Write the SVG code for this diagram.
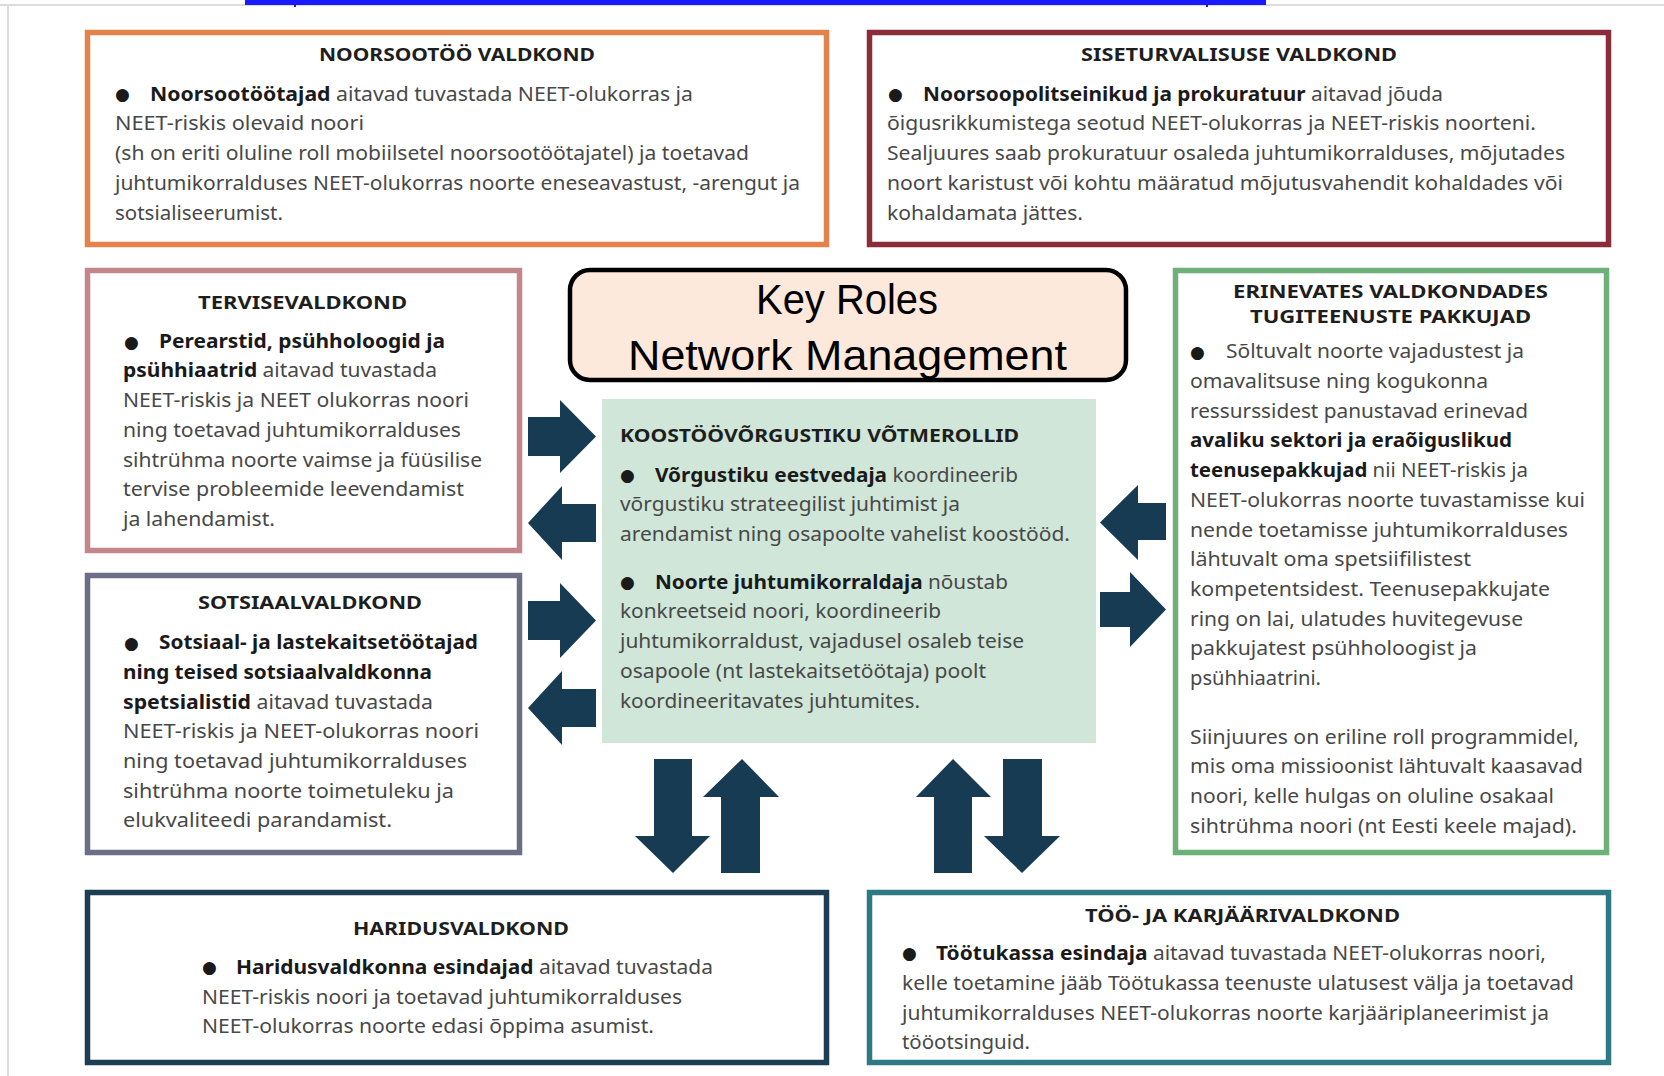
<svg xmlns="http://www.w3.org/2000/svg" width="1664" height="1076" viewBox="0 0 1664 1076">
<style>
.bx{fill:#ffffff;stroke-width:5.5}
.t{font-family:'Noto Sans','Liberation Sans',sans-serif;font-size:19px;fill:#484848}
.h{font-family:'Noto Sans','Liberation Sans',sans-serif;font-size:18px;font-weight:bold;fill:#1e1e1e}
.b{font-weight:bold;fill:#1a1a1a}
.bul{font-family:'DejaVu Sans',sans-serif;font-size:17px;fill:#1a1a1a}
.arr{fill:#173b53}
.kr{font-family:'Liberation Sans',Arial,sans-serif;font-size:43px;fill:#000}
</style>
<rect x="0" y="0" width="1664" height="1076" fill="#ffffff"/>
<g id="page-edge">
<line x1="0" y1="5" x2="1664" y2="5" stroke="#dcdcdc" stroke-width="2"/>
<line x1="8" y1="5" x2="8" y2="1076" stroke="#dcdcdc" stroke-width="2"/>
<rect x="245" y="0" width="1021" height="5" fill="#1a1aff"/>
<rect x="294" y="0" width="2" height="7" fill="#1a1aff"/>
<rect x="1206" y="0" width="2" height="7" fill="#1a1aff"/>
</g>

<g id="noorsootoo">
<rect class="bx" x="87.5" y="32.5" width="739" height="212" stroke="#e2834e"/>
<text class="h" x="319" y="61" textLength="276" lengthAdjust="spacingAndGlyphs">NOORSOOTÖÖ VALDKOND</text>
<text class="bul" x="115" y="100">●</text>
<text class="t" x="150" y="101" textLength="543" lengthAdjust="spacingAndGlyphs"><tspan class="b">Noorsootöötajad</tspan> aitavad tuvastada NEET-olukorras ja</text>
<text class="t" x="115" y="130" textLength="249" lengthAdjust="spacingAndGlyphs">NEET-riskis olevaid noori</text>
<text class="t" x="115" y="160" textLength="634" lengthAdjust="spacingAndGlyphs">(sh on eriti oluline roll mobiilsetel noorsootöötajatel) ja toetavad</text>
<text class="t" x="115" y="190" textLength="685" lengthAdjust="spacingAndGlyphs">juhtumikorralduses NEET-olukorras noorte eneseavastust, -arengut ja</text>
<text class="t" x="115" y="220" textLength="168" lengthAdjust="spacingAndGlyphs">sotsialiseerumist.</text>
</g>

<g id="siseturvalisus">
<rect class="bx" x="869.5" y="32.5" width="739" height="212" stroke="#8a2d3a"/>
<text class="h" x="1081" y="61" textLength="316" lengthAdjust="spacingAndGlyphs">SISETURVALISUSE VALDKOND</text>
<text class="bul" x="888" y="100">●</text>
<text class="t" x="923" y="101" textLength="520" lengthAdjust="spacingAndGlyphs"><tspan class="b">Noorsoopolitseinikud ja prokuratuur</tspan> aitavad jõuda</text>
<text class="t" x="887" y="130" textLength="649" lengthAdjust="spacingAndGlyphs">õigusrikkumistega seotud NEET-olukorras ja NEET-riskis noorteni.</text>
<text class="t" x="887" y="160" textLength="678" lengthAdjust="spacingAndGlyphs">Sealjuures saab prokuratuur osaleda juhtumikorralduses, mõjutades</text>
<text class="t" x="887" y="190" textLength="676" lengthAdjust="spacingAndGlyphs">noort karistust või kohtu määratud mõjutusvahendit kohaldades või</text>
<text class="t" x="887" y="220" textLength="196" lengthAdjust="spacingAndGlyphs">kohaldamata jättes.</text>
</g>

<g id="tervis">
<rect class="bx" x="87.5" y="270.5" width="432" height="280" stroke="#c4868a"/>
<text class="h" x="198" y="309" textLength="209" lengthAdjust="spacingAndGlyphs">TERVISEVALDKOND</text>
<text class="bul" x="124" y="348">●</text>
<text class="t" x="159" y="348" textLength="286" lengthAdjust="spacingAndGlyphs"><tspan class="b">Perearstid, psühholoogid ja</tspan></text>
<text class="t" x="123" y="377" textLength="314" lengthAdjust="spacingAndGlyphs"><tspan class="b">psühhiaatrid</tspan> aitavad tuvastada</text>
<text class="t" x="123" y="407" textLength="346" lengthAdjust="spacingAndGlyphs">NEET-riskis ja NEET olukorras noori</text>
<text class="t" x="123" y="437" textLength="338" lengthAdjust="spacingAndGlyphs">ning toetavad juhtumikorralduses</text>
<text class="t" x="123" y="467" textLength="359" lengthAdjust="spacingAndGlyphs">sihtrühma noorte vaimse ja füüsilise</text>
<text class="t" x="123" y="496" textLength="341" lengthAdjust="spacingAndGlyphs">tervise probleemide leevendamist</text>
<text class="t" x="123" y="526" textLength="152" lengthAdjust="spacingAndGlyphs">ja lahendamist.</text>
</g>

<g id="sotsiaal">
<rect class="bx" x="87.5" y="575.5" width="432" height="277" stroke="#6c6e87"/>
<text class="h" x="198" y="609" textLength="224" lengthAdjust="spacingAndGlyphs">SOTSIAALVALDKOND</text>
<text class="bul" x="124" y="649">●</text>
<text class="t" x="159" y="649" textLength="319" lengthAdjust="spacingAndGlyphs"><tspan class="b">Sotsiaal- ja lastekaitsetöötajad</tspan></text>
<text class="t" x="123" y="679" textLength="309" lengthAdjust="spacingAndGlyphs"><tspan class="b">ning teised sotsiaalvaldkonna</tspan></text>
<text class="t" x="123" y="709" textLength="310" lengthAdjust="spacingAndGlyphs"><tspan class="b">spetsialistid</tspan> aitavad tuvastada</text>
<text class="t" x="123" y="738" textLength="356" lengthAdjust="spacingAndGlyphs">NEET-riskis ja NEET-olukorras noori</text>
<text class="t" x="123" y="768" textLength="344" lengthAdjust="spacingAndGlyphs">ning toetavad juhtumikorralduses</text>
<text class="t" x="123" y="798" textLength="331" lengthAdjust="spacingAndGlyphs">sihtrühma noorte toimetuleku ja</text>
<text class="t" x="123" y="827" textLength="269" lengthAdjust="spacingAndGlyphs">elukvaliteedi parandamist.</text>
</g>

<g id="key-roles">
<rect x="570" y="270" width="556" height="110" rx="20" ry="20" fill="#fde9db" stroke="#000" stroke-width="4.5"/>
<text class="kr" x="756" y="314" textLength="182" lengthAdjust="spacingAndGlyphs">Key Roles</text>
<text class="kr" x="628" y="370" textLength="439" lengthAdjust="spacingAndGlyphs">Network Management</text>
</g>

<g id="vorgustik">
<rect x="602" y="399" width="494" height="344" fill="#cfe6d8"/>
<text class="h" x="620" y="442" textLength="399" lengthAdjust="spacingAndGlyphs">KOOSTÖÖVÕRGUSTIKU VÕTMEROLLID</text>
<text class="bul" x="620" y="481">●</text>
<text class="t" x="655" y="482" textLength="363" lengthAdjust="spacingAndGlyphs"><tspan class="b">Võrgustiku eestvedaja</tspan> koordineerib</text>
<text class="t" x="620" y="511" textLength="340" lengthAdjust="spacingAndGlyphs">võrgustiku strateegilist juhtimist ja</text>
<text class="t" x="620" y="541" textLength="450" lengthAdjust="spacingAndGlyphs">arendamist ning osapoolte vahelist koostööd.</text>
<text class="bul" x="620" y="588">●</text>
<text class="t" x="655" y="589" textLength="353" lengthAdjust="spacingAndGlyphs"><tspan class="b">Noorte juhtumikorraldaja</tspan> nõustab</text>
<text class="t" x="620" y="618" textLength="321" lengthAdjust="spacingAndGlyphs">konkreetseid noori, koordineerib</text>
<text class="t" x="620" y="648" textLength="404" lengthAdjust="spacingAndGlyphs">juhtumikorraldust, vajadusel osaleb teise</text>
<text class="t" x="620" y="678" textLength="366" lengthAdjust="spacingAndGlyphs">osapoole (nt lastekaitsetöötaja) poolt</text>
<text class="t" x="620" y="708" textLength="300" lengthAdjust="spacingAndGlyphs">koordineeritavates juhtumites.</text>
</g>

<g id="tugiteenused">
<rect class="bx" x="1175.5" y="270.5" width="431" height="582" stroke="#6db07a"/>
<text class="h" x="1233" y="298" textLength="315" lengthAdjust="spacingAndGlyphs">ERINEVATES VALDKONDADES</text>
<text class="h" x="1250" y="323" textLength="281" lengthAdjust="spacingAndGlyphs">TUGITEENUSTE PAKKUJAD</text>
<text class="bul" x="1190" y="358">●</text>
<text class="t" x="1226" y="358" textLength="298" lengthAdjust="spacingAndGlyphs">Sõltuvalt noorte vajadustest ja</text>
<text class="t" x="1190" y="388" textLength="298" lengthAdjust="spacingAndGlyphs">omavalitsuse ning kogukonna</text>
<text class="t" x="1190" y="418" textLength="338" lengthAdjust="spacingAndGlyphs">ressurssidest panustavad erinevad</text>
<text class="t" x="1190" y="447" textLength="322" lengthAdjust="spacingAndGlyphs"><tspan class="b">avaliku sektori ja eraõiguslikud</tspan></text>
<text class="t" x="1190" y="477" textLength="338" lengthAdjust="spacingAndGlyphs"><tspan class="b">teenusepakkujad</tspan> nii NEET-riskis ja</text>
<text class="t" x="1190" y="507" textLength="395" lengthAdjust="spacingAndGlyphs">NEET-olukorras noorte tuvastamisse kui</text>
<text class="t" x="1190" y="537" textLength="378" lengthAdjust="spacingAndGlyphs">nende toetamisse juhtumikorralduses</text>
<text class="t" x="1190" y="566" textLength="281" lengthAdjust="spacingAndGlyphs">lähtuvalt oma spetsiifilistest</text>
<text class="t" x="1190" y="596" textLength="360" lengthAdjust="spacingAndGlyphs">kompetentsidest. Teenusepakkujate</text>
<text class="t" x="1190" y="626" textLength="333" lengthAdjust="spacingAndGlyphs">ring on lai, ulatudes huvitegevuse</text>
<text class="t" x="1190" y="655" textLength="287" lengthAdjust="spacingAndGlyphs">pakkujatest psühholoogist ja</text>
<text class="t" x="1190" y="685" textLength="131" lengthAdjust="spacingAndGlyphs">psühhiaatrini.</text>
<text class="t" x="1190" y="744" textLength="389" lengthAdjust="spacingAndGlyphs">Siinjuures on eriline roll programmidel,</text>
<text class="t" x="1190" y="773" textLength="393" lengthAdjust="spacingAndGlyphs">mis oma missioonist lähtuvalt kaasavad</text>
<text class="t" x="1190" y="803" textLength="364" lengthAdjust="spacingAndGlyphs">noori, kelle hulgas on oluline osakaal</text>
<text class="t" x="1190" y="833" textLength="387" lengthAdjust="spacingAndGlyphs">sihtrühma noori (nt Eesti keele majad).</text>
</g>

<g id="haridus">
<rect class="bx" x="87.5" y="892.5" width="739" height="170" stroke="#1d3d52"/>
<text class="h" x="353" y="935" textLength="216" lengthAdjust="spacingAndGlyphs">HARIDUSVALDKOND</text>
<text class="bul" x="202" y="973">●</text>
<text class="t" x="236" y="974" textLength="477" lengthAdjust="spacingAndGlyphs"><tspan class="b">Haridusvaldkonna esindajad</tspan> aitavad tuvastada</text>
<text class="t" x="202" y="1004" textLength="480" lengthAdjust="spacingAndGlyphs">NEET-riskis noori ja toetavad juhtumikorralduses</text>
<text class="t" x="202" y="1033" textLength="452" lengthAdjust="spacingAndGlyphs">NEET-olukorras noorte edasi õppima asumist.</text>
</g>

<g id="too-karjaar">
<rect class="bx" x="869.5" y="892.5" width="739" height="170" stroke="#2d7a85"/>
<text class="h" x="1085" y="922" textLength="315" lengthAdjust="spacingAndGlyphs">TÖÖ- JA KARJÄÄRIVALDKOND</text>
<text class="bul" x="902" y="959">●</text>
<text class="t" x="936" y="960" textLength="610" lengthAdjust="spacingAndGlyphs"><tspan class="b">Töötukassa esindaja</tspan> aitavad tuvastada NEET-olukorras noori,</text>
<text class="t" x="902" y="990" textLength="672" lengthAdjust="spacingAndGlyphs">kelle toetamine jääb Töötukassa teenuste ulatusest välja ja toetavad</text>
<text class="t" x="902" y="1020" textLength="647" lengthAdjust="spacingAndGlyphs">juhtumikorralduses NEET-olukorras noorte karjääriplaneerimist ja</text>
<text class="t" x="902" y="1049" textLength="128" lengthAdjust="spacingAndGlyphs">tööotsinguid.</text>
</g>

<g id="connectors">
<path class="arr" d="M528,417 H560 V400 L596,436.5 L560,473 V456 H528 Z"/>
<path class="arr" d="M596,504 H562 V486 L528,523 L562,560 V542 H596 Z"/>
<path class="arr" d="M528,601 H560 V583 L596,620.5 L560,658 V640 H528 Z"/>
<path class="arr" d="M596,689 H562 V671 L528,708 L562,745 V727 H596 Z"/>
<path class="arr" d="M1166,503 H1138 V485 L1100,522.5 L1138,560 V540 H1166 Z"/>
<path class="arr" d="M1100,592 H1130 V572 L1166,609.5 L1130,647 V627 H1100 Z"/>
<path class="arr" d="M654,759 H692 V836 H710 L673,873 L635,836 H654 Z"/>
<path class="arr" d="M742,759 L779,797 H760 V873 H721 V797 H703 Z"/>
<path class="arr" d="M953,759 L991,797 H972 V873 H934 V797 H916 Z"/>
<path class="arr" d="M1003,759 H1042 V836 H1060 L1022,873 L984,836 H1003 Z"/>
</g>
</svg>
